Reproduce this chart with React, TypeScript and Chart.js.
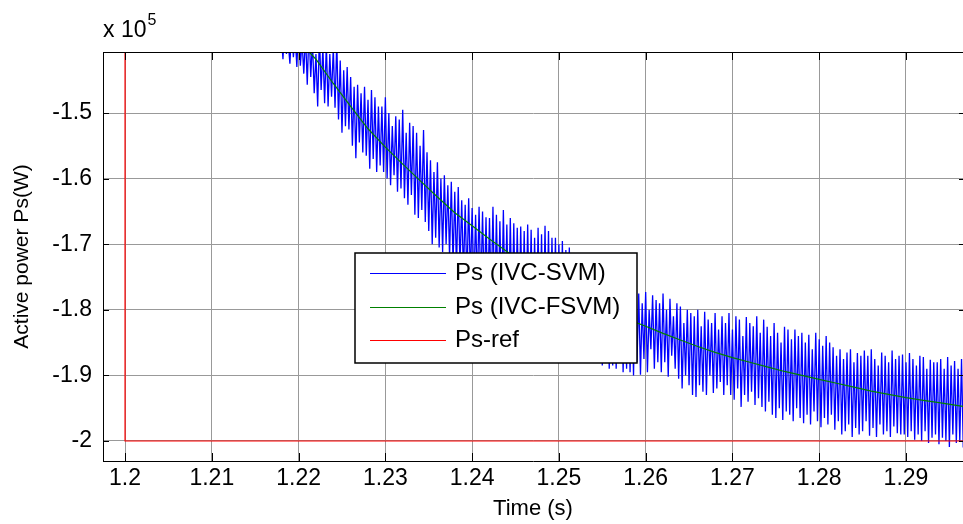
import React, { useEffect, useRef } from "react";
import { Chart, registerables } from "chart.js";

Chart.register(...registerables);

// ---- axis ticks ----
const xTicks = [1.2, 1.21, 1.22, 1.23, 1.24, 1.25, 1.26, 1.27, 1.28, 1.29];
const xTickLabels = ["1.2", "1.21", "1.22", "1.23", "1.24", "1.25", "1.26", "1.27", "1.28", "1.29"];
const yTicks = [-2, -1.9, -1.8, -1.7, -1.6, -1.5];
const yTickLabels = ["-2", "-1.9", "-1.8", "-1.7", "-1.6", "-1.5"];
const xMin = 1.19746;
const xMax = 1.29657;
const yMin = -2.0305;
const yMax = -1.407;

// ---- series (values in units of 1e5 W) ----
const seriesLabels = ["Ps (IVC-SVM)", "Ps (IVC-FSVM)", "Ps-ref"];
const seriesColors = ["#0000ff", "#008000", "#ff0000"];

// Ps (IVC-SVM): alternating upper / lower extremes, first sample time and half-period
const blueT0 = 1.2176;
const blueHalfStep = 0.0002;
const blueHi = [
  -1.37, -1.38, -1.36, -1.39, -1.37, -1.38, -1.36, -1.39, -1.38, -1.37,
  -1.39, -1.41, -1.38, -1.4, -1.395, -1.41, -1.4, -1.39, -1.42, -1.435,
  -1.43, -1.445, -1.46, -1.457, -1.47, -1.46, -1.48, -1.465, -1.476, -1.49,
  -1.49, -1.476, -1.5, -1.52, -1.505, -1.51, -1.495, -1.53, -1.515, -1.52,
  -1.53, -1.55, -1.526, -1.56, -1.572, -1.59, -1.575, -1.6, -1.595, -1.61,
  -1.605, -1.62, -1.613, -1.633, -1.64, -1.63, -1.645, -1.655, -1.643, -1.65,
  -1.659, -1.66, -1.643, -1.655, -1.665, -1.648, -1.67, -1.66, -1.668, -1.675,
  -1.673, -1.68, -1.67, -1.678, -1.69, -1.675, -1.685, -1.672, -1.68, -1.69,
  -1.69, -1.7, -1.695, -1.709, -1.705, -1.715, -1.72, -1.725, -1.718, -1.73,
  -1.735, -1.74, -1.745, -1.74, -1.75, -1.748, -1.755, -1.76, -1.752, -1.76,
  -1.765, -1.76, -1.77, -1.768, -1.775, -1.79, -1.773, -1.8, -1.778, -1.785,
  -1.79, -1.775, -1.8, -1.783, -1.81, -1.79, -1.795, -1.82, -1.8, -1.805,
  -1.81, -1.8, -1.825, -1.803, -1.815, -1.82, -1.805, -1.83, -1.81, -1.82,
  -1.805, -1.83, -1.81, -1.815, -1.84, -1.811, -1.82, -1.825, -1.81, -1.835,
  -1.815, -1.826, -1.84, -1.82, -1.835, -1.85, -1.826, -1.83, -1.845, -1.83,
  -1.84, -1.835, -1.85, -1.838, -1.86, -1.835, -1.845, -1.855, -1.84, -1.85,
  -1.857, -1.87, -1.86, -1.875, -1.865, -1.86, -1.88, -1.866, -1.87, -1.862,
  -1.87, -1.86, -1.875, -1.885, -1.865, -1.87, -1.88, -1.862, -1.875, -1.87,
  -1.868, -1.88, -1.866, -1.875, -1.885, -1.87, -1.872, -1.89, -1.876, -1.88,
  -1.88, -1.875, -1.89, -1.872, -1.885, -1.878, -1.89, -1.875, -1.88, -1.885,
];
const blueLo = [
  -1.4, -1.418, -1.41, -1.425, -1.415, -1.43, -1.428, -1.44, -1.457, -1.445,
  -1.47, -1.49, -1.465, -1.485, -1.49, -1.475, -1.492, -1.51, -1.53, -1.52,
  -1.525, -1.55, -1.569, -1.545, -1.56, -1.565, -1.585, -1.57, -1.59, -1.58,
  -1.59, -1.6, -1.61, -1.595, -1.62, -1.615, -1.63, -1.64, -1.625, -1.655,
  -1.66, -1.648, -1.666, -1.68, -1.7, -1.69, -1.705, -1.712, -1.7, -1.72,
  -1.73, -1.74, -1.735, -1.75, -1.76, -1.755, -1.77, -1.765, -1.775, -1.78,
  -1.79, -1.785, -1.8, -1.795, -1.805, -1.8, -1.81, -1.815, -1.82, -1.81,
  -1.825, -1.83, -1.82, -1.835, -1.84, -1.83, -1.845, -1.84, -1.85, -1.845,
  -1.85, -1.855, -1.86, -1.85, -1.865, -1.86, -1.87, -1.865, -1.875, -1.87,
  -1.875, -1.88, -1.87, -1.885, -1.88, -1.89, -1.885, -1.89, -1.88, -1.895,
  -1.89, -1.895, -1.9, -1.88, -1.899, -1.875, -1.895, -1.86, -1.89, -1.88,
  -1.895, -1.88, -1.902, -1.87, -1.89, -1.905, -1.92, -1.9, -1.915, -1.93,
  -1.933, -1.915, -1.925, -1.93, -1.9, -1.927, -1.92, -1.91, -1.93, -1.915,
  -1.93, -1.937, -1.92, -1.948, -1.93, -1.94, -1.925, -1.945, -1.935, -1.948,
  -1.955, -1.94, -1.96, -1.965, -1.95, -1.968, -1.955, -1.96, -1.97, -1.95,
  -1.965, -1.973, -1.96, -1.975, -1.955, -1.97, -1.979, -1.965, -1.975, -1.96,
  -1.983, -1.97, -1.99, -1.985, -1.975, -1.994, -1.98, -1.99, -1.985, -1.97,
  -1.992, -1.98, -1.994, -1.975, -1.99, -1.985, -1.994, -1.978, -1.988, -1.99,
  -1.99, -1.994, -1.985, -1.998, -1.99, -2.0, -1.985, -2.003, -1.995, -1.99,
  -2.005, -1.995, -2.0, -2.009, -1.99, -2.003, -2.0, -2.01, -1.995, -2.008,
];

// Ps (IVC-FSVM)
const greenT = [
  1.218, 1.22, 1.222, 1.224, 1.226, 1.228, 1.23, 1.232, 1.234, 1.236, 1.238,
  1.24, 1.242, 1.244, 1.246, 1.248, 1.25, 1.252, 1.254, 1.256, 1.258, 1.26,
  1.262, 1.264, 1.266, 1.268, 1.27, 1.272, 1.274, 1.276, 1.278, 1.28, 1.282,
  1.284, 1.286, 1.288, 1.29, 1.292, 1.294, 1.296, 1.297,
];
const greenV = [
  -1.36, -1.39, -1.418, -1.455, -1.49, -1.524, -1.552, -1.578, -1.603, -1.628, -1.652,
  -1.672, -1.692, -1.711, -1.73, -1.747, -1.763, -1.778, -1.792, -1.804, -1.815, -1.825,
  -1.836, -1.846, -1.856, -1.865, -1.873, -1.88, -1.887, -1.894, -1.9, -1.906, -1.912,
  -1.918, -1.924, -1.929, -1.934, -1.938, -1.942, -1.946, -1.948,
];

// Ps-ref (step)
const refT = [1.19, 1.2, 1.2, 1.3];
const refV = [0, 0, -2, -2];

function buildBlue() {
  const pts: { x: number; y: number }[] = [];
  for (let k = 0; k < blueHi.length; k++) {
    pts.push({ x: blueT0 + 2 * k * blueHalfStep, y: blueHi[k] });
    pts.push({ x: blueT0 + (2 * k + 1) * blueHalfStep, y: blueLo[k] });
  }
  return pts;
}

const FONT = "'Liberation Sans', Arial, Helvetica, sans-serif";

const decorPlugin = {
  id: "decor",
  afterDatasetsDraw(chart: any) {
    const { ctx, chartArea, scales } = chart;
    const { left, right, top, bottom } = chartArea;
    ctx.save();
    // top frame line
    ctx.strokeStyle = "#000";
    ctx.lineWidth = 1;
    ctx.beginPath();
    ctx.moveTo(left, top + 0.5);
    ctx.lineTo(right, top + 0.5);
    ctx.stroke();
    // inward tick marks
    ctx.beginPath();
    xTicks.forEach((v) => {
      const px = Math.round(scales.x.getPixelForValue(v)) + 0.5;
      ctx.moveTo(px, bottom);
      ctx.lineTo(px, bottom - 8);
      ctx.moveTo(px, top);
      ctx.lineTo(px, top + 8);
    });
    yTicks.forEach((v) => {
      const py = Math.round(scales.y.getPixelForValue(v)) + 0.5;
      ctx.moveTo(left, py);
      ctx.lineTo(left + 6, py);
      ctx.moveTo(right, py);
      ctx.lineTo(right - 4, py);
    });
    ctx.stroke();

    // legend box
    const bx = 355, by = 253, bw = 282, bh = 110;
    ctx.fillStyle = "#fff";
    ctx.fillRect(bx, by, bw, bh);
    ctx.lineWidth = 1.5;
    ctx.strokeStyle = "#000";
    ctx.strokeRect(bx, by, bw, bh);
    const rows = [273, 307, 340];
    ctx.font = `24px ${FONT}`;
    ctx.textBaseline = "middle";
    ctx.textAlign = "left";
    seriesLabels.forEach((lab, i) => {
      ctx.strokeStyle = seriesColors[i];
      ctx.lineWidth = 1;
      ctx.beginPath();
      ctx.moveTo(370, rows[i] + 0.5);
      ctx.lineTo(446, rows[i] + 0.5);
      ctx.stroke();
      ctx.fillStyle = "#000";
      ctx.fillText(lab, 455, rows[i]);
    });

    // exponent label
    ctx.fillStyle = "#000";
    ctx.textBaseline = "alphabetic";
    ctx.font = `23px ${FONT}`;
    ctx.fillText("x 10", left, 37);
    const w = ctx.measureText("x 10").width;
    ctx.font = `16px ${FONT}`;
    ctx.fillText("5", left + w + 1, 25);
    ctx.restore();
  },
};

export default function App() {
  const ref = useRef<HTMLCanvasElement | null>(null);
  useEffect(() => {
    document.body.style.margin = "0";
    const canvas = ref.current;
    if (!canvas) return;
    const chart = new Chart(canvas, {
      type: "line",
      data: {
        datasets: [
          {
            label: seriesLabels[0],
            data: buildBlue(),
            borderColor: seriesColors[0],
            borderWidth: 1.3,
            pointRadius: 0,
            tension: 0,
            order: 3,
          },
          {
            label: seriesLabels[1],
            data: greenT.map((t, i) => ({ x: t, y: greenV[i] })),
            borderColor: seriesColors[1],
            borderWidth: 1.2,
            pointRadius: 0,
            tension: 0,
            order: 2,
          },
          {
            label: seriesLabels[2],
            data: refT.map((t, i) => ({ x: t, y: refV[i] })),
            borderColor: seriesColors[2],
            borderWidth: 1.2,
            pointRadius: 0,
            tension: 0,
            order: 1,
          },
        ],
      },
      options: {
        animation: false,
        responsive: false,
        devicePixelRatio: 1,
        layout: { padding: { top: 52, right: 0, left: 0, bottom: 0 } },
        plugins: {
          legend: { display: false },
          tooltip: { enabled: false },
        },
        scales: {
          x: {
            type: "linear",
            min: xMin,
            max: xMax,
            afterBuildTicks: (s: any) => {
              s.ticks = xTicks.map((v) => ({ value: v }));
            },
            afterFit: (s: any) => {
              s.height = 63;
            },
            ticks: {
              color: "#000",
              font: { size: 23, family: FONT },
              padding: 4,
              maxRotation: 0,
              autoSkip: false,
              callback: (_v: any, i: number) => xTickLabels[i],
            },
            grid: { color: "#999999", drawTicks: false, lineWidth: 1 },
            border: { color: "#000", width: 1 },
            title: {
              display: true,
              text: "Time (s)",
              color: "#000",
              font: { size: 22, family: FONT },
              padding: { top: 0, bottom: 2 },
            },
          },
          y: {
            type: "linear",
            min: yMin,
            max: yMax,
            afterBuildTicks: (s: any) => {
              s.ticks = yTicks.map((v) => ({ value: v }));
            },
            afterFit: (s: any) => {
              s.width = 103;
            },
            ticks: {
              color: "#000",
              font: { size: 23, family: FONT },
              padding: 11,
              autoSkip: false,
              callback: (_v: any, i: number) => yTickLabels[i],
            },
            grid: { color: "#999999", drawTicks: false, lineWidth: 1 },
            border: { color: "#000", width: 1 },
            title: {
              display: true,
              text: "Active power Ps(W)",
              color: "#000",
              font: { size: 21, family: FONT },
              padding: { top: 10, bottom: 0 },
            },
          },
        },
      },
      plugins: [decorPlugin],
    } as any);
    return () => chart.destroy();
  }, []);
  return (
    <div style={{ width: 963, height: 524 }}>
      <canvas ref={ref} width={963} height={524} style={{ display: "block", width: 963, height: 524 }} />
    </div>
  );
}
